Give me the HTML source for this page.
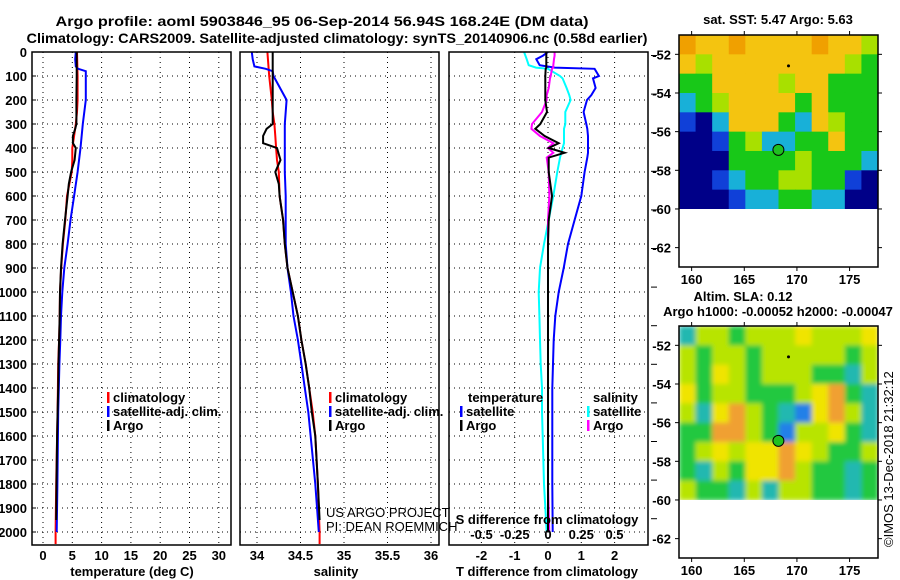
<!DOCTYPE html>
<html><head><meta charset="utf-8"><title>Argo profile</title>
<style>
html,body{margin:0;padding:0;background:#fff;}
svg{display:block;font-family:"Liberation Sans",Arial,sans-serif;}
.b{font-weight:bold;font-size:13px;fill:#000;}
.t{font-weight:bold;font-size:14px;fill:#000;}
</style></head>
<body>
<svg id="chart" width="900" height="580" viewBox="0 0 900 580" xmlns="http://www.w3.org/2000/svg">
<defs><filter id="blur" x="0" y="0" width="1" height="1"><feGaussianBlur stdDeviation="2.5" edgeMode="duplicate"/></filter></defs>
<rect width="900" height="580" fill="#fff"/>
<text class="t" x="322" y="26" text-anchor="middle" textLength="533" lengthAdjust="spacingAndGlyphs">Argo profile: aoml 5903846_95 06-Sep-2014 56.94S 168.24E (DM data)</text>
<text class="t" x="337" y="43" text-anchor="middle" textLength="621" lengthAdjust="spacingAndGlyphs">Climatology: CARS2009. Satellite-adjusted climatology: synTS_20140906.nc (0.58d earlier)</text>
<g id="g"></g>
</svg>
<script>
// ---- profile data (depth in m) ----
const tempDepth = [0,60,80,100,200,250,300,320,350,380,400,450,500,550,600,700,800,900,1000,1100,1200,1300,1400,1500,1600,1800,1950];
const tempArgo  = [5.75,5.75,5.75,5.75,5.7,5.7,5.7,5.5,5.1,5.1,5.6,5.4,4.8,4.4,4.2,3.75,3.35,3.07,2.9,2.85,2.75,2.65,2.6,2.5,2.4,2.3,2.25];
const climDepth = [0,100,200,250,300,350,400,450,500,600,700,800,900,1000,1100,1200,1300,1400,1500,1600,1800,2000,2050];
const tempClim  = [5.8,5.9,5.9,5.8,5.6,5.3,5.0,5.0,4.9,4.1,3.8,3.4,3.1,2.9,2.85,2.75,2.6,2.55,2.5,2.4,2.25,2.15,2.15];
const satDepth  = [0,30,60,70,80,100,200,300,400,500,600,700,800,900,1000,1100,1200,1300,1400,1500,1800,2000];
const tempSat   = [5.6,5.5,5.6,6.0,7.3,7.3,7.3,6.8,6.4,5.9,5.3,4.7,4.2,3.64,3.3,3.07,2.95,2.8,2.7,2.6,2.45,2.33];
const salArgo   = [34.18,34.18,34.18,34.18,34.18,34.18,34.18,34.11,34.07,34.07,34.23,34.27,34.21,34.25,34.26,34.30,34.32,34.35,34.41,34.47,34.51,34.56,34.60,34.63,34.67,34.70,34.72];
const salClim   = [34.12,34.14,34.17,34.18,34.20,34.21,34.22,34.23,34.25,34.26,34.30,34.32,34.35,34.41,34.47,34.51,34.56,34.60,34.64,34.67,34.70,34.72,34.72];
const salSat    = [33.94,33.95,33.97,34.1,34.18,34.19,34.34,34.32,34.32,34.32,34.33,34.33,34.33,34.35,34.39,34.42,34.47,34.51,34.55,34.59,34.67,34.71];
// ---- difference panel ----
const dDepth    = [0,15,30,55,65,70,100,110,150,180,200,250,300,320,350,380,400,420,440,500,600,700,800,900,1000,1100,1200,1300,1400,1500,1600,1800,2000];
const tdiffSat  = [0,-0.15,-0.35,-0.25,0.2,1.4,1.53,1.35,1.43,1.3,1.17,1.07,1.15,1.18,1.2,1.2,1.2,1.2,1.18,1.1,1.0,0.8,0.6,0.47,0.32,0.22,0.17,0.15,0.13,0.13,0.13,0.13,0.14];
const tdiffArgo = [-0.05,-0.05,-0.05,-0.05,-0.05,-0.07,-0.08,-0.08,-0.08,-0.08,-0.08,-0.03,-0.23,-0.38,-0.1,0.32,0.02,0.5,0.02,0.02,0.12,0.02,0,0,0,0,0,0,0,0,0,0,0];
const sdiffSat  = [-0.18,-0.17,-0.16,-0.145,-0.09,0.0,0.09,0.11,0.14,0.16,0.17,0.13,0.13,0.12,0.12,0.12,0.11,0.1,0.09,0.07,0.04,0.005,-0.03,-0.06,-0.07,-0.065,-0.06,-0.055,-0.045,-0.045,-0.04,-0.03,-0.01];
const sdiffArgo = [0.05,0.05,0.045,0.04,0.04,0.03,0.02,0.015,0.005,-0.01,-0.01,-0.045,-0.12,-0.125,-0.06,0.04,0.0,0.04,-0.01,0.005,0.01,0,0,0,0,0,0,0,0,0,0,0,0.01];
// ---- tick labels ----
const depthTicks = [0,100,200,300,400,500,600,700,800,900,1000,1100,1200,1300,1400,1500,1600,1700,1800,1900,2000];
const tempTicks  = [0,5,10,15,20,25,30];
const salTicks   = [34,34.5,35,35.5,36];
const salTickLabels = ["34","34.5","35","35.5","36"];
const tdTicks    = [-2,-1,0,1,2];
const sdTicks    = [-0.5,-0.25,0,0.25,0.5];
const sdTickLabels = ["-0.5","-0.25","0","0.25","0.5"];
const latTicks   = [-52,-54,-56,-58,-60,-62];
const lonTicks   = [160,165,170,175];
// ---- map fields (coarse colour codes, rows -51 -> -60 lat) ----
const sstRows = ["OYYOYYYYOYYL","YLYYYYYYYYLG","GGYYYYLYYGGG","CGLYYYYGYGGG","BNCYYYGCYLGG","NNBGLCCGGYGG","NNNGGGGLGGGC","NNBCGGLLGGBN","NNNBCCGGCCNN"];
const slaRows = ["CLLGLLLYLLLY","LGLLGLLLLLGL","LGYLGLLLGGCL","YGLLGGGLYOGC","LCYOLGCBYOLC","GGOOLGBLLYGC","GLYLYYOYLGGL","GCLGYYOLGGCG","LGGCLCLLGGCG"];
const argoLon = 168.24, argoLat = -56.94;

const NS="http://www.w3.org/2000/svg";
const G=document.getElementById('g');
function el(tag,attrs,parent){const e=document.createElementNS(NS,tag);for(const k in attrs)e.setAttribute(k,attrs[k]);(parent||G).appendChild(e);return e;}
function txt(s,attrs,parent){const e=el('text',attrs,parent);e.textContent=s;return e;}

const yD=d=>52+d*0.24;
const xT=t=>43+t*5.86;
const xS=s=>257+(s-34)*87;
const xTD=t=>548+t*33.3;
const xSD=s=>548+s*133;
const TOP=52,BOT=545;
const panels=[{x0:32,x1:231,name:'temperature-panel'},{x0:240,x1:439,name:'salinity-panel'},{x0:449,x1:648,name:'difference-panel'}];

function grid(p,vx){
  const g=el('g',{});
  
  
  depthTicks.forEach(d=>{el('line',{x1:p.x0,x2:p.x1,y1:yD(d),y2:yD(d),stroke:'#000','stroke-width':1,'stroke-dasharray':'1,4'},g);});
  vx.forEach(x=>{el('line',{x1:x,x2:x,y1:TOP,y2:BOT,stroke:'#000','stroke-width':1,'stroke-dasharray':'1,4'},g);});
}
grid(panels[0],tempTicks.map(xT));
grid(panels[1],salTicks.map(xS));
grid(panels[2],tdTicks.map(xTD));

function clipFor(p,id){const c=el('clipPath',{id:id});el('rect',{x:p.x0,y:TOP,width:p.x1-p.x0,height:BOT-TOP},c);return 'url(#'+id+')';}
function line(depths,vals,xf,color,clip,name,w){
  const pts=depths.map((d,i)=>xf(vals[i]).toFixed(1)+','+yD(d).toFixed(1)).join(' ');
  const e=el('polyline',{points:pts,fill:'none',stroke:color,'stroke-width':w||2,'clip-path':clip,'stroke-linejoin':'miter'});
  
  
}
const c0=clipFor(panels[0],'c0'),c1=clipFor(panels[1],'c1'),c2=clipFor(panels[2],'c2');
line(climDepth,tempClim,xT,'#f00',c0,'temp-climatology-line');
line(satDepth,tempSat,xT,'#0000ff',c0,'temp-satellite-line');
line(tempDepth,tempArgo,xT,'#000',c0,'temp-argo-line');
line(climDepth,salClim,xS,'#f00',c1,'sal-climatology-line');
line(satDepth,salSat,xS,'#0000ff',c1,'sal-satellite-line');
line(tempDepth,salArgo,xS,'#000',c1,'sal-argo-line');
line(dDepth,sdiffSat,xSD,'#00ffff',c2,'sdiff-satellite-line');
line(dDepth,tdiffSat,xTD,'#0000ff',c2,'tdiff-satellite-line');
line(dDepth,sdiffArgo,xSD,'#ff00ff',c2,'sdiff-argo-line');
line(dDepth,tdiffArgo,xTD,'#000',c2,'tdiff-argo-line');

panels.forEach(p=>{
  const r=el('rect',{x:p.x0,y:TOP,width:p.x1-p.x0,height:BOT-TOP,fill:'none',stroke:'#000','stroke-width':1.5});
  
  
});
depthTicks.forEach(d=>{
  const t=txt(String(d),{class:'b',x:27,y:yD(d)+5,'text-anchor':'end'});
  
  
  el('line',{x1:32,x2:36,y1:yD(d),y2:yD(d),stroke:'#000'});
});
tempTicks.forEach(v=>{
  const t=txt(String(v),{class:'b',x:xT(v),y:560,'text-anchor':'middle'});
  
  
});
salTicks.forEach((v,i)=>{
  const t=txt(salTickLabels[i],{class:'b',x:xS(v),y:560,'text-anchor':'middle'});
  
  
});
tdTicks.forEach(v=>{
  const t=txt(String(v),{class:'b',x:xTD(v),y:560,'text-anchor':'middle'});
  
  
});
sdTicks.forEach((v,i)=>{
  const t=txt(sdTickLabels[i],{class:'b',x:xSD(v),y:539,'text-anchor':'middle'});
  
  
});
for(let k=0;k<13;k++){el('line',{x1:651,x2:657,y1:55.5+k*38.6,y2:55.5+k*38.6,stroke:'#000'});}
let t;
t=txt('temperature (deg C)',{class:'b',x:132,y:576,'text-anchor':'middle'});


t=txt('salinity',{class:'b',x:336,y:576,'text-anchor':'middle'});


t=txt('T difference from climatology',{class:'b',x:547,y:576,'text-anchor':'middle'});


t=txt('S difference from climatology',{class:'b',x:547,y:524,'text-anchor':'middle'});


t=txt('US ARGO PROJECT',{x:326,y:517,'font-size':13,fill:'#000'});


t=txt('PI: DEAN ROEMMICH',{x:326,y:531,'font-size':13,fill:'#000'});



function legend(x,y,color,label,name){
  el('rect',{x:x,y:y-10,width:2.5,height:11,fill:color});
  const e=txt(label,{class:'b',x:x+6,y:y});
  
  
}
legend(107,402,'#f00','climatology','legend-temp-climatology');
legend(107,416,'#0000ff','satellite-adj. clim.','legend-temp-satellite');
legend(107,430,'#000','Argo','legend-temp-argo');
legend(329,402,'#f00','climatology','legend-sal-climatology');
legend(329,416,'#0000ff','satellite-adj. clim.','legend-sal-satellite');
legend(329,430,'#000','Argo','legend-sal-argo');
t=txt('temperature',{class:'b',x:468,y:402});


t=txt('salinity',{class:'b',x:593,y:402});


legend(460,416,'#0000ff','satellite','legend-tdiff-satellite');
legend(460,430,'#000','Argo','legend-tdiff-argo');
legend(587,416,'#00ffff','satellite','legend-sdiff-satellite');
legend(587,430,'#ff00ff','Argo','legend-sdiff-argo');

// ---- maps ----
const COL={Y:'#f4c410',O:'#f0a000',G:'#18c818',L:'#a8e000',C:'#18b0d8',B:'#1040d8',N:'#000088'};
const COL2={Y:'#f0e400',O:'#f0a030',G:'#20c840',L:'#b8e400',C:'#20b8b0',B:'#2080e8'};
function map(top,rows,pal,name,blur){
  const x0=679,x1=878,bot=top+232;
  const xL=lon=>x0+(lon-158.8)*(199/18.9);
  const yL=lat=>top+(-51-lat)*19.33;
  const g=el('g',{});
  
  
  const cw=(x1-x0)/12, ch=(yL(-60)-top)/9;
  const cid='mc'+top;
  const cp=el('clipPath',{id:cid},g);
  el('rect',{x:x0,y:top,width:x1-x0,height:yL(-60)-top},cp);
  const outer=el('g',{'clip-path':'url(#'+cid+')'},g);
  const cells=el('g',blur?{filter:'url(#blur)'}:{},outer);
  rows.forEach((r,i)=>{for(let j=0;j<12;j++){el('rect',{x:x0+j*cw,y:top+i*ch,width:cw+0.5,height:ch+0.5,fill:pal[r[j]]},cells);}});
  el('rect',{x:x0,y:top,width:x1-x0,height:bot-top,fill:'none',stroke:'#000','stroke-width':1.5},g);
  latTicks.forEach(l=>{
    el('line',{x1:x1,x2:x1+4,y1:yL(l),y2:yL(l),stroke:'#000'},g);
    el('line',{x1:x0-4,x2:x0,y1:yL(l),y2:yL(l),stroke:'#000'},g);
    const e=txt(String(l),{class:'b',x:671,y:yL(l)+5,'text-anchor':'end'},g);
    
    
  });
  lonTicks.forEach(l=>{
    el('line',{x1:xL(l),x2:xL(l),y1:top-4,y2:top,stroke:'#000'},g);
    el('line',{x1:xL(l),x2:xL(l),y1:bot,y2:bot+4,stroke:'#000'},g);
    const e=txt(String(l),{class:'b',x:xL(l),y:bot+17,'text-anchor':'middle'},g);
    
    
  });
  const c=el('circle',{cx:xL(argoLon),cy:yL(argoLat),r:5.5,fill:'#20c020',stroke:'#000','stroke-width':1},g);
  
  
  el('circle',{cx:xL(169.2),cy:yL(-52.6),r:1.5,fill:'#000'},g);
}
map(35,sstRows,COL,'sst-map',false);
map(326,slaRows,COL2,'sla-map',true);
t=txt('sat. SST: 5.47 Argo: 5.63',{class:'b',x:778,y:24,'text-anchor':'middle'});


t=txt('Altim. SLA: 0.12',{class:'b',x:743,y:301,'text-anchor':'middle'});


t=txt('Argo h1000: -0.00052 h2000: -0.00047',{class:'b',x:778,y:316,'text-anchor':'middle'});


t=txt('©IMOS 13-Dec-2018 21:32:12',{x:0,y:0,'font-size':13,fill:'#000',transform:'translate(893,547) rotate(-90)'});


</script>
</body></html>
